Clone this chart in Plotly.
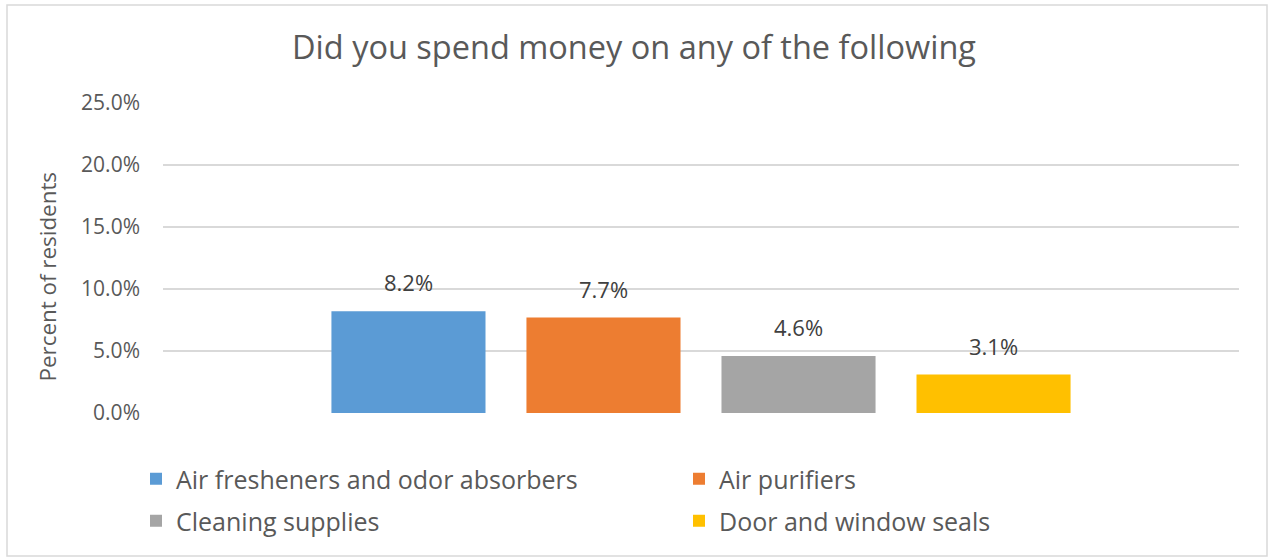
import plotly.graph_objects as go

# Survey results: share of residents who spent money on each item
categories = ["Air fresheners and odor absorbers", "Air purifiers",
              "Cleaning supplies", "Door and window seals"]
values = [0.082, 0.077, 0.046, 0.031]
colors = ["#5B9BD5", "#ED7D31", "#A5A5A5", "#FFC000"]
legend_ids = ["legend", "legend", "legend2", "legend2"]
tick_vals = [0, 0.05, 0.10, 0.15, 0.20, 0.25]

W, H = 1268, 557
L, R, T, B = 163, 29, 103, 144
FONT = "Open Sans"
GREY = "#595959"
BARGAP, GROUPGAP = 0.275, 0.21

plot_h = H - T - B
plot_w = W - L - R


def py(px):
    return (H - B - px) / plot_h


def px_(x):
    return (x - L) / plot_w


fig = go.Figure()
for name, v, c, lg in zip(categories, values, colors, legend_ids):
    fig.add_trace(go.Bar(
        x=[0], y=[v], name=name, marker_color=c, marker_line_width=0,
        legend=lg, hoverinfo="skip",
    ))

# value labels above each bar of the group
slot = plot_w * (1 - BARGAP) / len(values)
for i, v in enumerate(values):
    fig.add_annotation(
        x=0, y=v, xref="x", yref="y", text=f"{v * 100:.1f}%",
        xshift=(i - (len(values) - 1) / 2) * slot, yshift=12,
        yanchor="bottom", showarrow=False,
        font=dict(family=FONT, size=22, color="#404040"))

legend_font = dict(family=FONT, size=25, color=GREY)

fig.update_layout(
    width=W, height=H,
    margin=dict(l=L, r=R, t=T, b=B),
    paper_bgcolor="white", plot_bgcolor="white",
    barmode="group", bargap=BARGAP, bargroupgap=GROUPGAP,
    font=dict(family=FONT, color=GREY),
    title=dict(text="Did you spend money on any of the following",
               x=0.5, xref="container", xanchor="center",
               y=1 - 48 / H, yref="container", yanchor="middle",
               font=dict(family=FONT, size=32.5, color=GREY)),
    xaxis=dict(showticklabels=False, showgrid=False, zeroline=False,
               showline=False, ticks="", range=[-0.5, 0.5]),
    yaxis=dict(range=[0, 0.25], tickvals=tick_vals, tickformat=".1%",
               showgrid=True, gridcolor="#D9D9D9", gridwidth=1.5,
               zeroline=False, showline=False, ticks="",
               ticklabelstandoff=22,
               tickfont=dict(family=FONT, size=21, color=GREY)),
    legend=dict(orientation="h", x=px_(136), xanchor="left",
                y=py(479), yanchor="middle",
                entrywidth=498, entrywidthmode="pixels",
                font=legend_font, bgcolor="rgba(0,0,0,0)"),
    legend2=dict(orientation="h", x=px_(136), xanchor="left",
                 y=py(521), yanchor="middle",
                 entrywidth=498, entrywidthmode="pixels",
                 font=legend_font, bgcolor="rgba(0,0,0,0)"),
    showlegend=True,
)

fig.add_annotation(text="Percent of residents", textangle=-90,
                   xref="paper", yref="paper", x=px_(47), y=py(276.5),
                   xanchor="center", yanchor="middle", showarrow=False,
                   font=dict(family=FONT, size=22.4, color=GREY))

# chart frame
fig.add_shape(type="rect", xref="paper", yref="paper",
              x0=px_(7), x1=px_(1267), y0=py(556), y1=py(5),
              line=dict(color="#D9D9D9", width=1.5), layer="below")

fig.write_html("out.html")
